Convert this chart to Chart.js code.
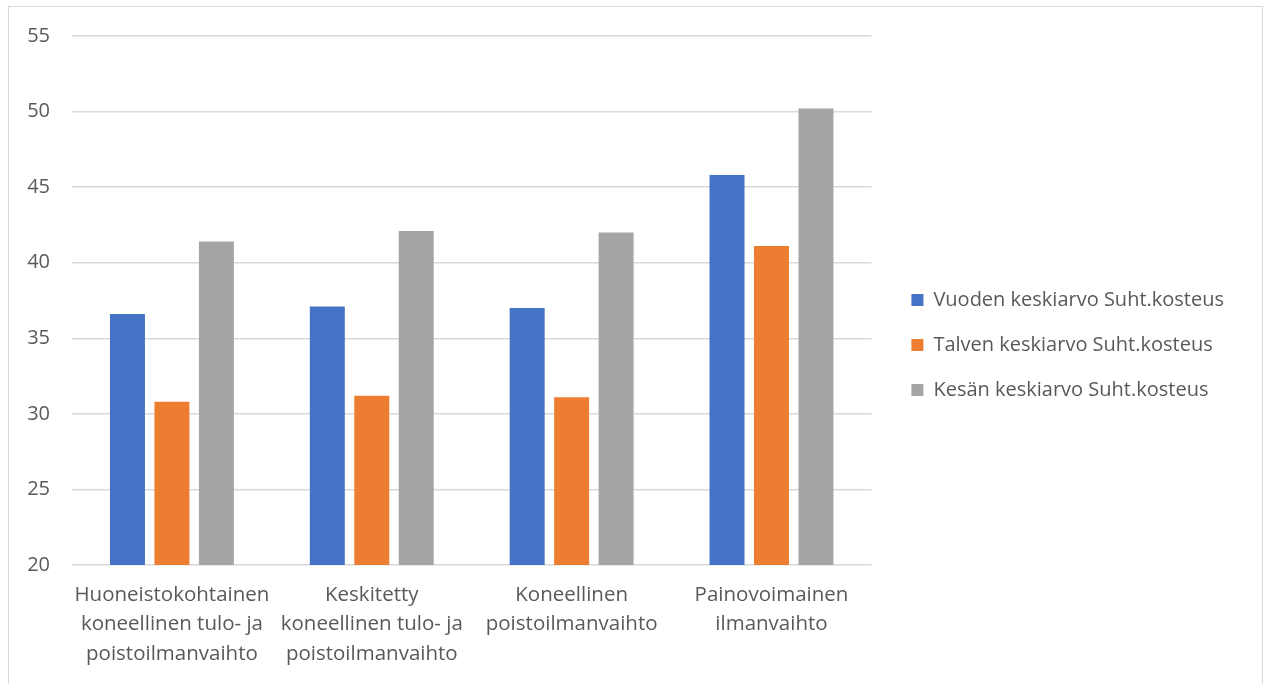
<!DOCTYPE html>
<html>
<head>
<meta charset="utf-8">
<script src="https://cdn.jsdelivr.net/npm/chart.js@4"></script>
<style>
  body { margin: 0; background: #fff; }
  #box {
    position: absolute; left: 8px; top: 6px;
    width: 1253px; height: 690px;
    border: 1px solid #d9d9d9;
  }
  #wrap { width: 1253px; height: 658px; }
</style>
</head>
<body>
<div id="box"><div id="wrap"><canvas id="myChart"></canvas></div></div>
<script>
// categories (multi-line labels)
var categories = [
    ['Huoneistokohtainen', 'koneellinen tulo- ja', 'poistoilmanvaihto'],
    ['Keskitetty', 'koneellinen tulo- ja', 'poistoilmanvaihto'],
    ['Koneellinen', 'poistoilmanvaihto'],
    ['Painovoimainen', 'ilmanvaihto']
];

// series
var vuosi = [36.6, 37.1, 37.0, 45.8];
var talvi = [30.8, 31.2, 31.1, 41.1];
var kesa = [41.4, 42.1, 42.0, 50.2];

var seriesNames = [
    'Vuoden keskiarvo Suht.kosteus',
    'Talven keskiarvo Suht.kosteus',
    'Kesän keskiarvo Suht.kosteus'
];

var yTicks = [20, 25, 30, 35, 40, 45, 50, 55];

var fontFamily = "'Open Sans', sans-serif";
var textColor = '#595959';

const ctx = document.getElementById('myChart');
new Chart(ctx, {
    type: 'bar',
    data: {
        labels: categories,
        datasets: [{
            label: seriesNames[0],
            data: vuosi,
            backgroundColor: '#4472C4'
        }, {
            label: seriesNames[1],
            data: talvi,
            backgroundColor: '#ED7D31'
        }, {
            label: seriesNames[2],
            data: kesa,
            backgroundColor: '#A5A5A5'
        }]
    },
    options: {
        responsive: true,
        maintainAspectRatio: false,
        animation: false,
        categoryPercentage: 0.6675,
        barPercentage: 0.7865,
        layout: {
            padding: { top: 18, right: 28, bottom: 0, left: 0 }
        },
        plugins: {
            tooltip: { enabled: false },
            // empty title, only used as top spacing
            title: {
                display: true,
                text: '',
                padding: 0,
                font: { size: 11, lineHeight: 1 }
            },
            legend: {
                position: 'right',
                maxWidth: 420,
                labels: {
                    boxWidth: 12,
                    boxHeight: 12,
                    padding: 25,
                    color: textColor,
                    font: { family: fontFamily, size: 20 }
                }
            }
        },
        scales: {
            x: {
                grid: { display: false, drawTicks: false },
                border: { display: false },
                ticks: {
                    color: textColor,
                    padding: 15,
                    maxRotation: 0,
                    autoSkip: false,
                    font: { family: fontFamily, size: 20.5, lineHeight: 1.45 }
                },
                afterFit: function (scale) { scale.height = 100; }
            },
            y: {
                min: yTicks[0],
                max: yTicks[yTicks.length - 1],
                grid: { color: '#d9d9d9', lineWidth: 1.5, drawTicks: false },
                border: { display: false },
                ticks: {
                    stepSize: 5,
                    color: textColor,
                    padding: 22,
                    font: { family: fontFamily, size: 20 }
                },
                afterFit: function (scale) {
                    scale.width = 63;
                    // tick padding would otherwise push the plot top down
                    scale.paddingTop = 12;
                    scale.paddingBottom = 12;
                }
            },
            gap: {
                position: 'right',
                display: true,
                grid: { display: false, drawTicks: false },
                border: { display: false },
                ticks: { display: false },
                afterFit: function (scale) { scale.width = 15; }
            }
        }
    }
});
</script>
</body>
</html>
